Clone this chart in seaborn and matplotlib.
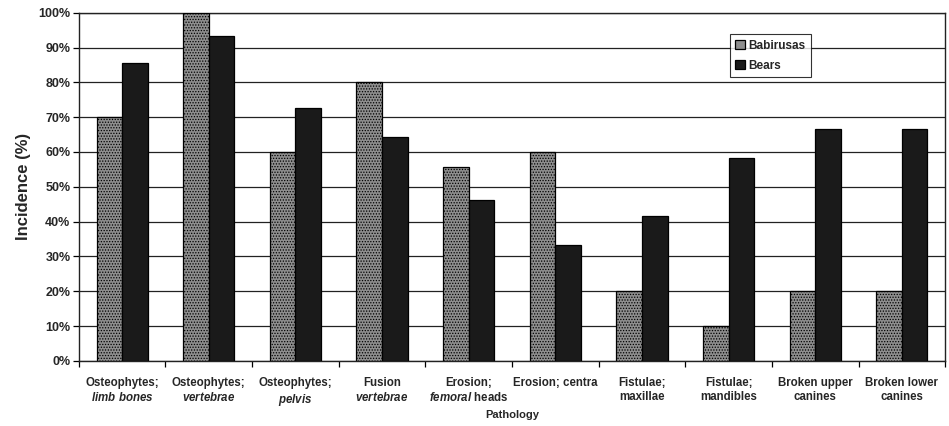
import matplotlib
matplotlib.use("Agg")
import matplotlib.pyplot as plt
import seaborn as sns
import pandas as pd
import numpy as np
from matplotlib.ticker import PercentFormatter, FixedLocator

categories = [
    "Osteophytes;\n$\\it{limb\\ bones}$",
    "Osteophytes;\n$\\it{vertebrae}$",
    "Osteophytes;\n$\\it{pelvis}$",
    "Fusion\n$\\it{vertebrae}$",
    "Erosion;\n$\\it{femoral}$ heads",
    "Erosion; centra",
    "Fistulae;\nmaxillae",
    "Fistulae;\nmandibles",
    "Broken upper\ncanines",
    "Broken lower\ncanines",
]
babirusas = [70.0, 100.0, 60.0, 80.0, 55.6, 60.0, 20.0, 10.0, 20.0, 20.0]
bears = [85.7, 93.3, 72.7, 64.3, 46.2, 33.3, 41.7, 58.3, 66.7, 66.7]
series_names = ["Babirusas", "Bears"]

df = pd.DataFrame({
    "Pathology": categories * 2,
    "Incidence": babirusas + bears,
    "Animal": [series_names[0]] * len(categories) + [series_names[1]] * len(categories),
})

sns.set_theme(style="white")
plt.rcParams["font.family"] = ["Liberation Sans", "DejaVu Sans"]
plt.rcParams["font.weight"] = "bold"
plt.rcParams["mathtext.fontset"] = "custom"
plt.rcParams["mathtext.rm"] = "Liberation Sans:bold"
plt.rcParams["mathtext.it"] = "Liberation Sans:italic:bold"
plt.rcParams["mathtext.bf"] = "Liberation Sans:bold"
plt.rcParams["hatch.color"] = "#444444"
plt.rcParams["hatch.linewidth"] = 0.6

fig = plt.figure(figsize=(9.49, 4.26), dpi=100)
ax = fig.add_axes([0.083, 0.153, 0.913, 0.817])

palette = {"Babirusas": "#8e8e8e", "Bears": "#1a1a1a"}
sns.barplot(data=df, x="Pathology", y="Incidence", hue="Animal", palette=palette,
            width=0.59, gap=0, edgecolor="black", linewidth=0.9, saturation=1,
            ax=ax, zorder=3)

for bar in ax.containers[0]:
    bar.set_hatch("......")

ax.set_ylim(0, 100)
ax.set_xlim(-0.5, len(categories) - 0.5)
ax.yaxis.set_major_locator(FixedLocator(np.arange(0, 101, 10)))
ax.yaxis.set_major_formatter(PercentFormatter(decimals=0))
ax.grid(axis="y", color="#222222", linewidth=0.9, zorder=0)
ax.set_axisbelow(True)
for s in ax.spines.values():
    s.set_color("#222222")
    s.set_linewidth(1.0)

ax.tick_params(axis="y", left=True, length=4, width=0.9, color="black", labelsize=9, pad=2)
ax.tick_params(axis="x", bottom=False, labelsize=8.3, pad=6)
ax.set_xticks(np.arange(-0.5, len(categories), 1.0), minor=True)
ax.tick_params(axis="x", which="minor", bottom=True, length=4, width=0.9, color="black")
for lbl in ax.get_xticklabels() + ax.get_yticklabels():
    lbl.set_fontweight("bold")

ax.set_ylabel("Incidence (%)", fontsize=12, fontweight="bold", labelpad=5)
ax.set_xlabel("Pathology", fontsize=8, fontweight="bold", labelpad=2)

leg = ax.legend(loc="upper left", bbox_to_anchor=(0.745, 0.955), frameon=True,
                fontsize=8.5, handlelength=0.8, handleheight=0.8, handletextpad=0.3,
                borderpad=0.45, labelspacing=0.7, fancybox=False, title=None)
leg.get_frame().set_edgecolor("black")
leg.get_frame().set_linewidth(0.8)
for t in leg.get_texts():
    t.set_fontweight("bold")

fig.savefig("out.png", dpi=100, facecolor="white")
